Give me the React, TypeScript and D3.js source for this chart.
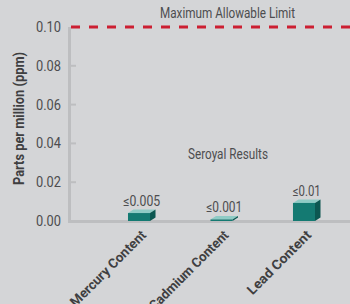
import React from "react";
import * as d3 from "d3";

const categories = ["Mercury Content", "Cadmium Content", "Lead Content"];
const values = [0.0041, 0.0008, 0.0093];
const valueLabels = ["≤0.005", "≤0.001", "≤0.01"];
const yTicks = [0, 0.02, 0.04, 0.06, 0.08, 0.1];
const limitValue = 0.1;
const limitLabel = "Maximum Allowable Limit";
const resultsLabel = "Seroyal Results";
const yTitle = "Parts per million (ppm)";

const W = 350;
const H = 304;
const FONT = "Roboto, 'Noto Sans', sans-serif";

const valueLabelLen = [37, 36, 28];
const catLabelLen = [101, 106, 84];

export default function App() {
  const y = d3.scaleLinear().domain([0, 0.1]).range([221, 27]);
  const x = d3
    .scaleBand<string>()
    .domain(categories)
    .range([70, 373])
    .paddingInner(0.733)
    .paddingOuter(0.703);
  const bw = x.bandwidth();
  const dx = 5.5;
  const dy = 3.5;
  const front = "#147a72";
  const top = "#8fcbc5";
  const side = "#0c5751";
  const textCol = "#4d4d4f";
  const boldCol = "#3f3f41";

  return (
    <svg
      width={W}
      height={H}
      style={{ position: "absolute", left: 0, top: 0, background: "#d4d5d7" }}
      fontFamily={FONT}
    >
      <rect x={0} y={0} width={W} height={H} fill="#d4d5d7" />
      {/* y axis */}
      <line x1={69.5} x2={69.5} y1={y(0.1)} y2={y(0) + 1.5} stroke="#bdbec0" strokeWidth={3} />
      {yTicks.map((t) => (
        <g key={t}>
          {t > 0 && t < 0.1 && (
            <line x1={70} x2={76} y1={y(t)} y2={y(t)} stroke="#bdbec0" strokeWidth={2} />
          )}
          <text
            x={61}
            y={y(t)}
            dy="0.36em"
            textAnchor="end"
            fontSize={14}
            fill={textCol}
            textLength={25}
            lengthAdjust="spacingAndGlyphs"
          >
            {t.toFixed(2)}
          </text>
        </g>
      ))}
      {/* x axis */}
      <line x1={68} x2={W} y1={y(0) + 0.5} y2={y(0) + 0.5} stroke="#bdbec0" strokeWidth={3} />
      {/* limit line */}
      <line
        x1={71}
        x2={W}
        y1={y(limitValue)}
        y2={y(limitValue)}
        stroke="#cc1f32"
        strokeWidth={3}
        strokeDasharray="9 9"
      />
      <text
        x={160}
        y={18}
        fontSize={15}
        fill={textCol}
        textLength={135}
        lengthAdjust="spacingAndGlyphs"
      >
        {limitLabel}
      </text>
      <text
        x={188}
        y={159}
        fontSize={14}
        fill={textCol}
        textLength={80}
        lengthAdjust="spacingAndGlyphs"
      >
        {resultsLabel}
      </text>
      {/* y title */}
      <text
        transform={`translate(24, 185) rotate(-90)`}
        fontSize={14}
        fontWeight="bold"
        fill={boldCol}
        textLength={133}
        lengthAdjust="spacingAndGlyphs"
      >
        {yTitle}
      </text>
      {/* bars */}
      {categories.map((c, i) => {
        const x0 = x(c)!;
        const yt = y(values[i]);
        const yb = y(0);
        return (
          <g key={c}>
            <polygon
              points={`${x0},${yt} ${x0 + dx},${yt - dy} ${x0 + bw + dx},${yt - dy} ${x0 + bw},${yt}`}
              fill={top}
            />
            <polygon
              points={`${x0 + bw},${yt} ${x0 + bw + dx},${yt - dy} ${x0 + bw + dx},${yb - dy} ${x0 + bw},${yb}`}
              fill={side}
            />
            <rect x={x0} y={yt} width={bw} height={yb - yt} fill={front} />
            <text
              x={x0 + (bw + dx) / 2 - valueLabelLen[i] / 2}
              y={yt - dy - 3.5}
              fontSize={14}
              fill={textCol}
              textLength={valueLabelLen[i]}
              lengthAdjust="spacingAndGlyphs"
            >
              {valueLabels[i]}
            </text>
            <g transform={`translate(${x0 + bw / 2 + 8}, 236) rotate(-45)`}>
              <text
                x={-catLabelLen[i]}
                fontSize={13.5}
                fontWeight="bold"
                fill={boldCol}
                textLength={catLabelLen[i]}
                lengthAdjust="spacingAndGlyphs"
              >
                {c}
              </text>
            </g>
          </g>
        );
      })}
    </svg>
  );
}
